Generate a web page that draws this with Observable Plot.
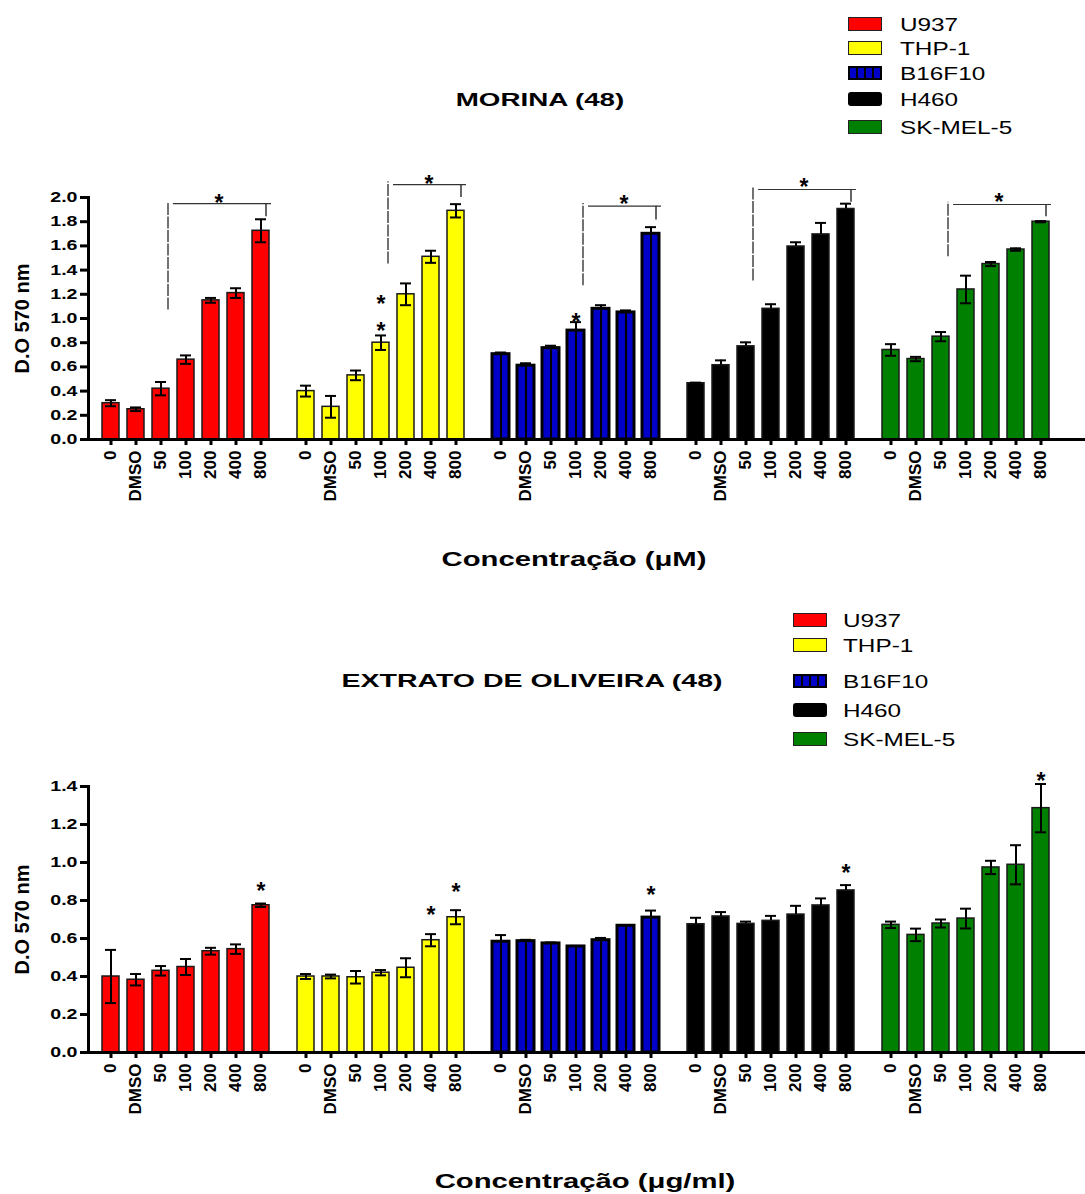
<!DOCTYPE html>
<html><head><meta charset="utf-8">
<script src="https://cdn.jsdelivr.net/npm/d3@7"></script>
<script src="https://cdn.jsdelivr.net/npm/@observablehq/plot@0.6"></script>
<style>
body{margin:0;background:#fff;font-family:"Liberation Sans",Arial,sans-serif;}
#page{position:relative;width:1085px;height:1194px;overflow:hidden;background:#fff;}
.abs{position:absolute;white-space:nowrap;line-height:1;color:#000;}
.sw{position:absolute;box-sizing:border-box;}
</style></head><body><div id="page"></div>
<script>
// ---------- data ----------
const cells = ["U937", "THP-1", "B16F10", "H460", "SK-MEL-5"];
const cellColors = ["#ff0000", "#ffff00", "#0000c8", "#000000", "#008000"];
const concs = ["0", "DMSO", "50", "100", "200", "400", "800"];

// MORINA (48) — D.O 570 nm, mean and error
const morinaU937 = [0.30, 0.25, 0.42, 0.66, 1.15, 1.21, 1.725];
const morinaU937Err = [0.025, 0.015, 0.055, 0.035, 0.02, 0.04, 0.095];
const morinaTHP1 = [0.40, 0.27, 0.53, 0.80, 1.20, 1.51, 1.89];
const morinaTHP1Err = [0.045, 0.09, 0.04, 0.06, 0.09, 0.05, 0.055];
const morinaB16F10 = [0.705, 0.61, 0.755, 0.90, 1.08, 1.05, 1.70];
const morinaB16F10Err = [0.014, 0.02, 0.02, 0.07, 0.03, 0.017, 0.055];
const morinaH460 = [0.465, 0.614, 0.77, 1.08, 1.595, 1.695, 1.905];
const morinaH460Err = [0.005, 0.04, 0.033, 0.038, 0.035, 0.095, 0.044];
const morinaSKMEL5 = [0.74, 0.665, 0.85, 1.24, 1.45, 1.57, 1.80];
const morinaSKMEL5Err = [0.048, 0.018, 0.038, 0.114, 0.017, 0.01, 0.005];
const morinaStars = [
  {cell: "THP-1", conc: "100", y: 1.163},
  {cell: "THP-1", conc: "100", y: 0.942},
  {cell: "B16F10", conc: "100", y: 1.017}
];
const morinaBrackets = [
  {cell: "U937", vAt: "50", vLow: 1.07, vHigh: 1.96, hFrom: "100", hTo: "800", hY: 1.95, tickLow: 1.84, starY: 2.0},
  {cell: "THP-1", vAt: "100", vLow: 1.45, vHigh: 2.13, hFrom: "200", hTo: "800", hY: 2.107, tickLow: 2.0, starY: 2.16},
  {cell: "B16F10", vAt: "100", vLow: 1.27, vHigh: 1.95, hFrom: "200", hTo: "800", hY: 1.928, tickLow: 1.815, starY: 1.99},
  {cell: "H460", vAt: "50", vLow: 1.31, vHigh: 2.09, hFrom: "100", hTo: "800", hY: 2.066, tickLow: 1.96, starY: 2.13},
  {cell: "SK-MEL-5", vAt: "50", vLow: 1.51, vHigh: 1.96, hFrom: "100", hTo: "800", hY: 1.942, tickLow: 1.84, starY: 2.01}
];
const morinaYTicks = [0, 0.2, 0.4, 0.6, 0.8, 1.0, 1.2, 1.4, 1.6, 1.8, 2.0];

// EXTRATO DE OLIVEIRA (48)
const oliveU937 = [0.40, 0.383, 0.43, 0.45, 0.533, 0.544, 0.775];
const oliveU937Err = [0.14, 0.03, 0.025, 0.042, 0.018, 0.025, 0.009];
const oliveTHP1 = [0.40, 0.40, 0.396, 0.42, 0.446, 0.591, 0.712];
const oliveTHP1Err = [0.013, 0.01, 0.033, 0.014, 0.05, 0.032, 0.037];
const oliveB16F10 = [0.583, 0.586, 0.574, 0.558, 0.591, 0.667, 0.71];
const oliveB16F10Err = [0.035, 0.007, 0.005, 0.003, 0.012, 0.003, 0.037];
const oliveH460 = [0.675, 0.716, 0.677, 0.693, 0.726, 0.774, 0.853];
const oliveH460Err = [0.034, 0.023, 0.012, 0.026, 0.046, 0.037, 0.028];
const oliveSKMEL5 = [0.672, 0.619, 0.679, 0.705, 0.974, 0.988, 1.286];
const oliveSKMEL5Err = [0.017, 0.033, 0.021, 0.052, 0.035, 0.103, 0.127];
const oliveStars = [
  {cell: "U937", conc: "800", y: 0.88},
  {cell: "THP-1", conc: "400", y: 0.753},
  {cell: "THP-1", conc: "800", y: 0.875},
  {cell: "B16F10", conc: "800", y: 0.858},
  {cell: "H460", conc: "800", y: 0.972},
  {cell: "SK-MEL-5", conc: "800", y: 1.458}
];
const oliveYTicks = [0, 0.2, 0.4, 0.6, 0.8, 1.0, 1.2, 1.4];

// ---------- helpers ----------
function table(list) {
  const rows = [];
  list.forEach(([cell, means, errs]) => {
    means.forEach((v, i) => rows.push({cell, conc: concs[i], value: v, err: errs[i]}));
  });
  return rows;
}
const morinaRows = table([
  ["U937", morinaU937, morinaU937Err], ["THP-1", morinaTHP1, morinaTHP1Err],
  ["B16F10", morinaB16F10, morinaB16F10Err], ["H460", morinaH460, morinaH460Err],
  ["SK-MEL-5", morinaSKMEL5, morinaSKMEL5Err]
]);
const oliveRows = table([
  ["U937", oliveU937, oliveU937Err], ["THP-1", oliveTHP1, oliveTHP1Err],
  ["B16F10", oliveB16F10, oliveB16F10Err], ["H460", oliveH460, oliveH460Err],
  ["SK-MEL-5", oliveSKMEL5, oliveSKMEL5Err]
]);

const page = document.getElementById("page");
const FONT = '"Liberation Sans", Arial, sans-serif';

function addText(txt, cx, cy, size, weight, sx, anchor) {
  const d = document.createElement("div");
  d.className = "abs";
  d.textContent = txt;
  d.style.fontFamily = FONT;
  d.style.fontSize = size + "px";
  d.style.fontWeight = weight;
  d.style.left = cx + "px";
  d.style.top = cy + "px";
  if (anchor === "start") {
    d.style.transformOrigin = "left center";
    d.style.transform = `translate(0,-50%) scaleX(${sx})`;
  } else {
    d.style.transformOrigin = "center center";
    d.style.transform = `translate(-50%,-50%) scaleX(${sx})`;
  }
  page.appendChild(d);
}

function legend(rowYs, swLeft, txtLeft) {
  cells.forEach((c, i) => {
    const s = document.createElement("div");
    s.className = "sw";
    s.style.left = swLeft + "px";
    s.style.top = (rowYs[i] - 7) + "px";
    s.style.width = "34px";
    s.style.height = "14px";
    const col = cellColors[i];
    if (c === "B16F10") {
      s.style.border = "2px solid #000";
      s.style.background = `repeating-linear-gradient(90deg, ${col} 0px, ${col} 6px, #000 6px, #000 8px)`;
    } else if (c === "H460") {
      s.style.background = col;
      s.style.borderRadius = "3px";
    } else {
      s.style.background = col;
      s.style.border = "1.5px solid #222";
    }
    page.appendChild(s);
    addText(c, txtLeft, rowYs[i], 19, "normal", 1.28, "start");
  });
}

function stretch(t, s) {
  const tr = t.getAttribute("transform");
  if (tr) t.setAttribute("transform", tr + ` scale(${s},1)`);
  else {
    const x = +(t.getAttribute("x") || 0), y = +(t.getAttribute("y") || 0);
    t.removeAttribute("x"); t.removeAttribute("y");
    t.setAttribute("transform", `translate(${x},${y}) scale(${s},1)`);
  }
}

function panel({rows, yMax, yTicks, height, marginTop, marginBottom, stars, brackets, top}) {
  const light = new Set(["U937", "THP-1", "SK-MEL-5"]);
  const lightRows = rows.filter(d => light.has(d.cell));
  const blueRows = rows.filter(d => d.cell === "B16F10");
  const ci = c => concs.indexOf(c);
  const starStyle = {text: () => "*", fontSize: 23, fontWeight: "bold", fontFamily: FONT};
  const marks = [
    Plot.barY(rows, {fx: "cell", x: "conc", y: "value", fill: "cell", stroke: "#1a1a1a", strokeWidth: 1.5}),
    Plot.barY(blueRows, {fx: "cell", x: "conc", y: "value", fill: "cell", stroke: "#000", strokeWidth: 3}),
    Plot.ruleX(blueRows, {fx: "cell", x: "conc", y1: 0, y2: "value", stroke: "#000", strokeWidth: 2}),
    // error bars (upper half everywhere)
    Plot.ruleX(rows, {fx: "cell", x: "conc", y1: "value", y2: d => d.value + d.err, stroke: "#000", strokeWidth: 2}),
    Plot.tickY(rows, {fx: "cell", x: "conc", y: d => d.value + d.err, stroke: "#000", strokeWidth: 2, insetLeft: 3, insetRight: 3}),
    // lower half visible only on light bars
    Plot.ruleX(lightRows, {fx: "cell", x: "conc", y1: d => d.value - d.err, y2: "value", stroke: "#000", strokeWidth: 2}),
    Plot.tickY(lightRows, {fx: "cell", x: "conc", y: d => d.value - d.err, stroke: "#000", strokeWidth: 2, insetLeft: 3, insetRight: 3}),
    // baseline (x axis line) and its extension after the last group
    Plot.ruleY([0], {stroke: "#000", strokeWidth: 3}),
    Plot.ruleY(cells.slice(-1), {fx: d => d, y: () => 0, stroke: "#000", strokeWidth: 3, insetRight: -22}),
    Plot.frame({anchor: "left", stroke: "#000", strokeWidth: 3, facetAnchor: "left"}),
    Plot.axisX({tickRotate: -90, tickSize: 6, tickPadding: 5, strokeWidth: 3, fontSize: 17, label: null}),
    Plot.axisY({ticks: yTicks, tickFormat: d => d.toFixed(1), tickSize: 8, tickPadding: 3, strokeWidth: 3, fontSize: 14,
      label: "D.O 570 nm", labelArrow: "none", labelAnchor: "center", labelOffset: 74}),
    Plot.text(stars, {fx: "cell", x: "conc", y: "y", ...starStyle, dy: 6})
  ];
  if (brackets) {
    const whole = brackets.filter(b => (ci(b.hFrom) + ci(b.hTo)) % 2 === 0);
    const half = brackets.filter(b => (ci(b.hFrom) + ci(b.hTo)) % 2 === 1);
    marks.push(
      Plot.ruleX(brackets, {fx: "cell", x: "vAt", y1: "vLow", y2: "vHigh", dx: 7, stroke: "#444", strokeWidth: 1.5, strokeDasharray: "12,1.5"}),
      Plot.ruleY(brackets, {fx: "cell", x1: "hFrom", x2: "hTo", y: "hY", insetLeft: -4, insetRight: -2, stroke: "#333", strokeWidth: 1.2}),
      Plot.ruleX(brackets, {fx: "cell", x: "hTo", y1: "tickLow", y2: "hY", dx: 5, stroke: "#333", strokeWidth: 1.5}),
      Plot.text(whole, {fx: "cell", x: b => concs[(ci(b.hFrom) + ci(b.hTo)) / 2], y: "starY", ...starStyle, dx: -2, dy: 6}),
      Plot.text(half, {fx: "cell", x: b => concs[(ci(b.hFrom) + ci(b.hTo) - 1) / 2], y: "starY", ...starStyle, dx: 8, dy: 6})
    );
  }
  const svg = Plot.plot({
    width: 1085, height, marginLeft: 87, marginRight: 21.5, marginTop, marginBottom,
    style: {fontFamily: FONT, fontWeight: "bold", background: "transparent", overflow: "visible", color: "#000"},
    fx: {domain: cells, padding: 0, axis: null, label: null},
    x: {domain: concs, paddingInner: 0.333, paddingOuter: 0.496, axis: null, label: null},
    y: {domain: [0, yMax], axis: null},
    color: {domain: cells, range: cellColors},
    marks
  });
  svg.querySelectorAll('g[aria-label="y-axis tick label"] text').forEach(t => stretch(t, 1.4));
  svg.querySelectorAll('g[aria-label="y-axis label"] text').forEach(t => {
    t.textContent = t.textContent.replace(/[\u2190-\u21FF]/g, "").trim();
    t.style.fontSize = "20px"; t.style.fontWeight = "bold";
  });
  svg.querySelectorAll('g[aria-label="x-axis tick label"] text').forEach(t => { t.style.fontWeight = "bold"; });
  const holder = document.createElement("div");
  holder.style.position = "absolute";
  holder.style.left = "0px";
  holder.style.top = top + "px";
  holder.appendChild(svg);
  page.appendChild(holder);
}

// ---------- top panel ----------
legend([24, 48, 73, 99, 127], 848, 900);
addText("MORINA (48)", 540, 100, 18.5, "bold", 1.5, "middle");
panel({rows: morinaRows, yMax: 2.0, yTicks: morinaYTicks, height: 360, marginTop: 37, marginBottom: 81,
  stars: morinaStars, brackets: morinaBrackets, top: 160});
addText("Concentração (μM)", 574, 560, 19.5, "bold", 1.5, "middle");

// ---------- bottom panel ----------
legend([620, 645, 681, 710, 739], 793, 843);
addText("EXTRATO DE OLIVEIRA (48)", 532, 681, 18.5, "bold", 1.54, "middle");
panel({rows: oliveRows, yMax: 1.4, yTicks: oliveYTicks, height: 370, marginTop: 26, marginBottom: 78,
  stars: oliveStars, brackets: null, top: 760});
addText("Concentração (μg/ml)", 585, 1182, 19.5, "bold", 1.5, "middle");
</script></body></html>
